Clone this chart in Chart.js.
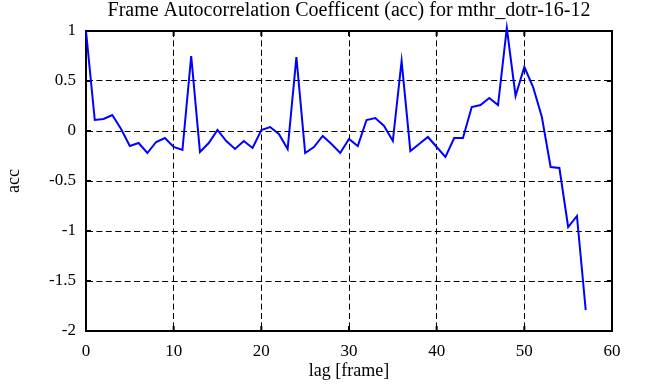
<!DOCTYPE html>
<html>
<head>
<meta charset="utf-8">
<script src="https://cdn.jsdelivr.net/npm/chart.js@4"></script>
<style>
  html, body { margin: 0; padding: 0; background: #fff; }
  #wrap { width: 651px; height: 387px; }
</style>
</head>
<body>
<div id="wrap"><canvas id="myChart"></canvas></div>
<script>
// lag values (frames) and acc values
let lags = [0,1,2,3,4,5,6,7,8,9,10,11,12,13,14,15,16,17,18,19,
  20,21,22,23,24,25,26,27,28,29,30,31,32,33,34,35,36,37,38,39,
  40,41,42,43,44,45,46,47,48,49,50,51,52,53,54,55,56,57];
let acc = [1.0,0.11,0.12,0.16,0.02,-0.15,-0.12,-0.22,-0.11,-0.07,
  -0.16,-0.19,0.75,-0.21,-0.12,0.01,-0.10,-0.18,-0.10,-0.17,
  0.01,0.04,-0.03,-0.18,0.74,-0.22,-0.16,-0.05,-0.13,-0.22,
  -0.08,-0.15,0.11,0.13,0.05,-0.10,0.70,-0.20,-0.13,-0.06,
  -0.16,-0.26,-0.07,-0.07,0.24,0.26,0.33,0.26,1.03,0.35,
  0.64,0.44,0.14,-0.36,-0.37,-0.96,-0.85,-1.79];

let xTicks = [0,10,20,30,40,50,60];
let yTicks = [1,0.5,0,-0.5,-1,-1.5,-2];

let serif = "'Liberation Serif', 'DejaVu Serif', serif";

let points = lags.map((l, i) => ({x: l, y: acc[i]}));

function edgeColor(lo, hi) {
  return (c) => {
    if (!c.tick) return "#000";
    return (c.tick.value === lo || c.tick.value === hi) ? "rgba(0,0,0,0)" : "#000";
  };
}

// box round the plot + little ticks pointing inward on every side
let frameBox = {
  id: "frameBox",
  beforeDatasetsDraw(chart) {
    let c = chart.ctx, a = chart.chartArea;
    let sx = chart.scales.x, sy = chart.scales.y;
    c.save();
    c.strokeStyle = "#000";
    c.lineWidth = 2;
    c.strokeRect(a.left, a.top, a.right - a.left, a.bottom - a.top);
    c.beginPath();
    sx.ticks.forEach(t => {
      let px = sx.getPixelForValue(t.value);
      c.moveTo(px, a.bottom); c.lineTo(px, a.bottom - 5);
      c.moveTo(px, a.top); c.lineTo(px, a.top + 5);
    });
    sy.ticks.forEach(t => {
      let py = sy.getPixelForValue(t.value);
      c.moveTo(a.left, py); c.lineTo(a.left + 5, py);
      c.moveTo(a.right, py); c.lineTo(a.right - 5, py);
    });
    c.stroke();
    c.restore();
  }
};

let ctx = document.getElementById("myChart");

let chartt = new Chart(ctx, {
  type: "line",
  data: {
    datasets: [{
      data: points,
      borderColor: "#0000ff",
      borderWidth: 2,
      pointRadius: 0,
      tension: 0,
      fill: false,
      clip: false,
    }],
  },
  options: {
    responsive: true,
    maintainAspectRatio: false,
    animation: false,
    layout: { padding: { left: 0, right: 39, top: 0, bottom: 0 } },
    plugins: {
      legend: { display: false },
      tooltip: { enabled: false },
      title: {
        display: true,
        fullSize: false,
        text: "Frame Autocorrelation Coefficent (acc) for mthr_dotr-16-12",
        color: "#000",
        font: { family: serif, size: 20, weight: "normal", lineHeight: 1 },
        padding: { top: 1, bottom: 10 },
      },
    },
    scales: {
      x: {
        type: "linear",
        min: 0, max: 60,
        afterBuildTicks: (s) => { s.ticks = xTicks.map(v => ({value: v})); },
        afterFit: (s) => { s.height = 56; },
        ticks: {
          color: "#000",
          font: { family: serif, size: 17 },
          padding: 10,
          maxRotation: 0,
          callback: (v) => String(v),
        },
        grid: { color: edgeColor(0, 60), lineWidth: 1, drawTicks: false },
        border: { display: true, color: "#000", width: 2, dash: [6, 3.4] },
        title: {
          display: true,
          text: "lag [frame]",
          color: "#000",
          font: { family: serif, size: 18 },
          padding: { top: 0, bottom: 5 },
        },
      },
      y: {
        type: "linear",
        min: -2, max: 1,
        afterBuildTicks: (s) => { s.ticks = yTicks.map(v => ({value: v})); },
        afterFit: (s) => { s.width = 86; },
        ticks: {
          color: "#000",
          font: { family: serif, size: 17 },
          padding: 10,
          callback: (v) => String(v),
        },
        grid: { color: edgeColor(-2, 1), lineWidth: 1, drawTicks: false },
        border: { display: true, color: "#000", width: 2, dash: [6, 3.4] },
        title: {
          display: true,
          text: "acc",
          color: "#000",
          font: { family: serif, size: 18 },
          padding: { top: 3, bottom: 0 },
        },
      },
    },
  },
  plugins: [frameBox],
});
</script>
</body>
</html>
